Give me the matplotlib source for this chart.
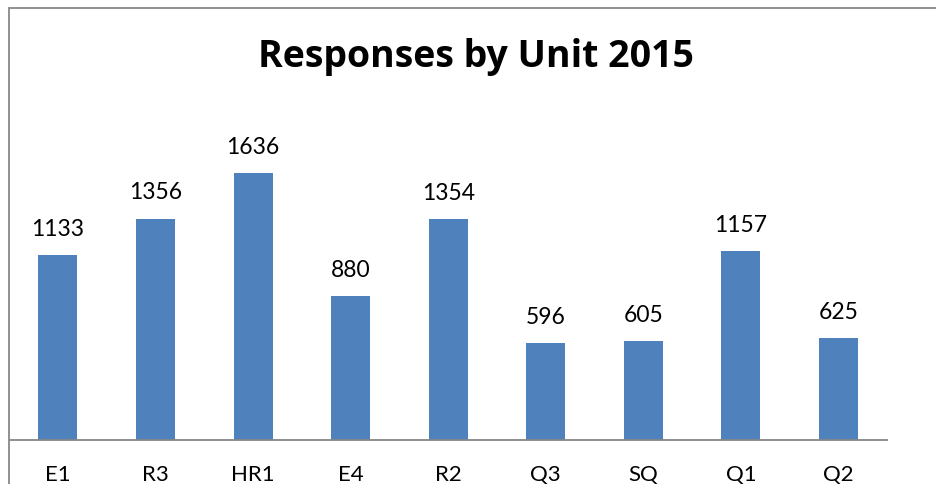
import matplotlib
matplotlib.use("Agg")
import matplotlib.pyplot as plt
from matplotlib.patches import Rectangle

categories = ["E1", "R3", "HR1", "E4", "R2", "Q3", "SQ", "Q1", "Q2"]
values = [1133, 1356, 1636, 880, 1354, 596, 605, 1157, 625]
title = "Responses by Unit 2015"

W, H = 937, 484
plt.rcParams['font.family'] = ['Lato', 'DejaVu Sans']
fig = plt.figure(figsize=(W / 100, H / 100), dpi=100)

left, right, bottom, top = 9.2, 887.2, 440, 146
ax = fig.add_axes([left / W, (H - bottom) / H, (right - left) / W, (bottom - top) / H])

x = list(range(len(categories)))
ax.bar(x, values, width=0.4, color="#4F81BD", zorder=2)
ax.set_xlim(-0.5, len(categories) - 0.5)
ax.set_ylim(0, 1800)

for xi, v in zip(x, values):
    ax.annotate(str(v), (xi, v), xytext=(0, 13.7), textcoords="offset points",
                ha="center", va="baseline", fontsize=16.5, color="#000000",
                annotation_clip=False)

ax.set_xticks(x)
ax.set_xticklabels(categories, fontsize=16)
ax.tick_params(axis="x", length=0, pad=29.5)
for lab in ax.get_xticklabels():
    lab.set_va("baseline")
ax.set_yticks([])
for s in ["top", "left", "right"]:
    ax.spines[s].set_visible(False)
ax.spines["bottom"].set_color("#868686")
ax.spines["bottom"].set_linewidth(1.3)
ax.patch.set_visible(False)

fig.text(476 / W, (H - 67) / H, title, ha="center", va="baseline",
         fontsize=27, fontweight="bold", family=["Open Sans", "DejaVu Sans"])

border = Rectangle((9 / W, -0.1), 1.2, (H - 8) / H + 0.1, transform=fig.transFigure,
                   fill=False, edgecolor="#909090", linewidth=1.4, clip_on=False)
fig.patches.append(border)

fig.savefig("out.png", dpi=100)
